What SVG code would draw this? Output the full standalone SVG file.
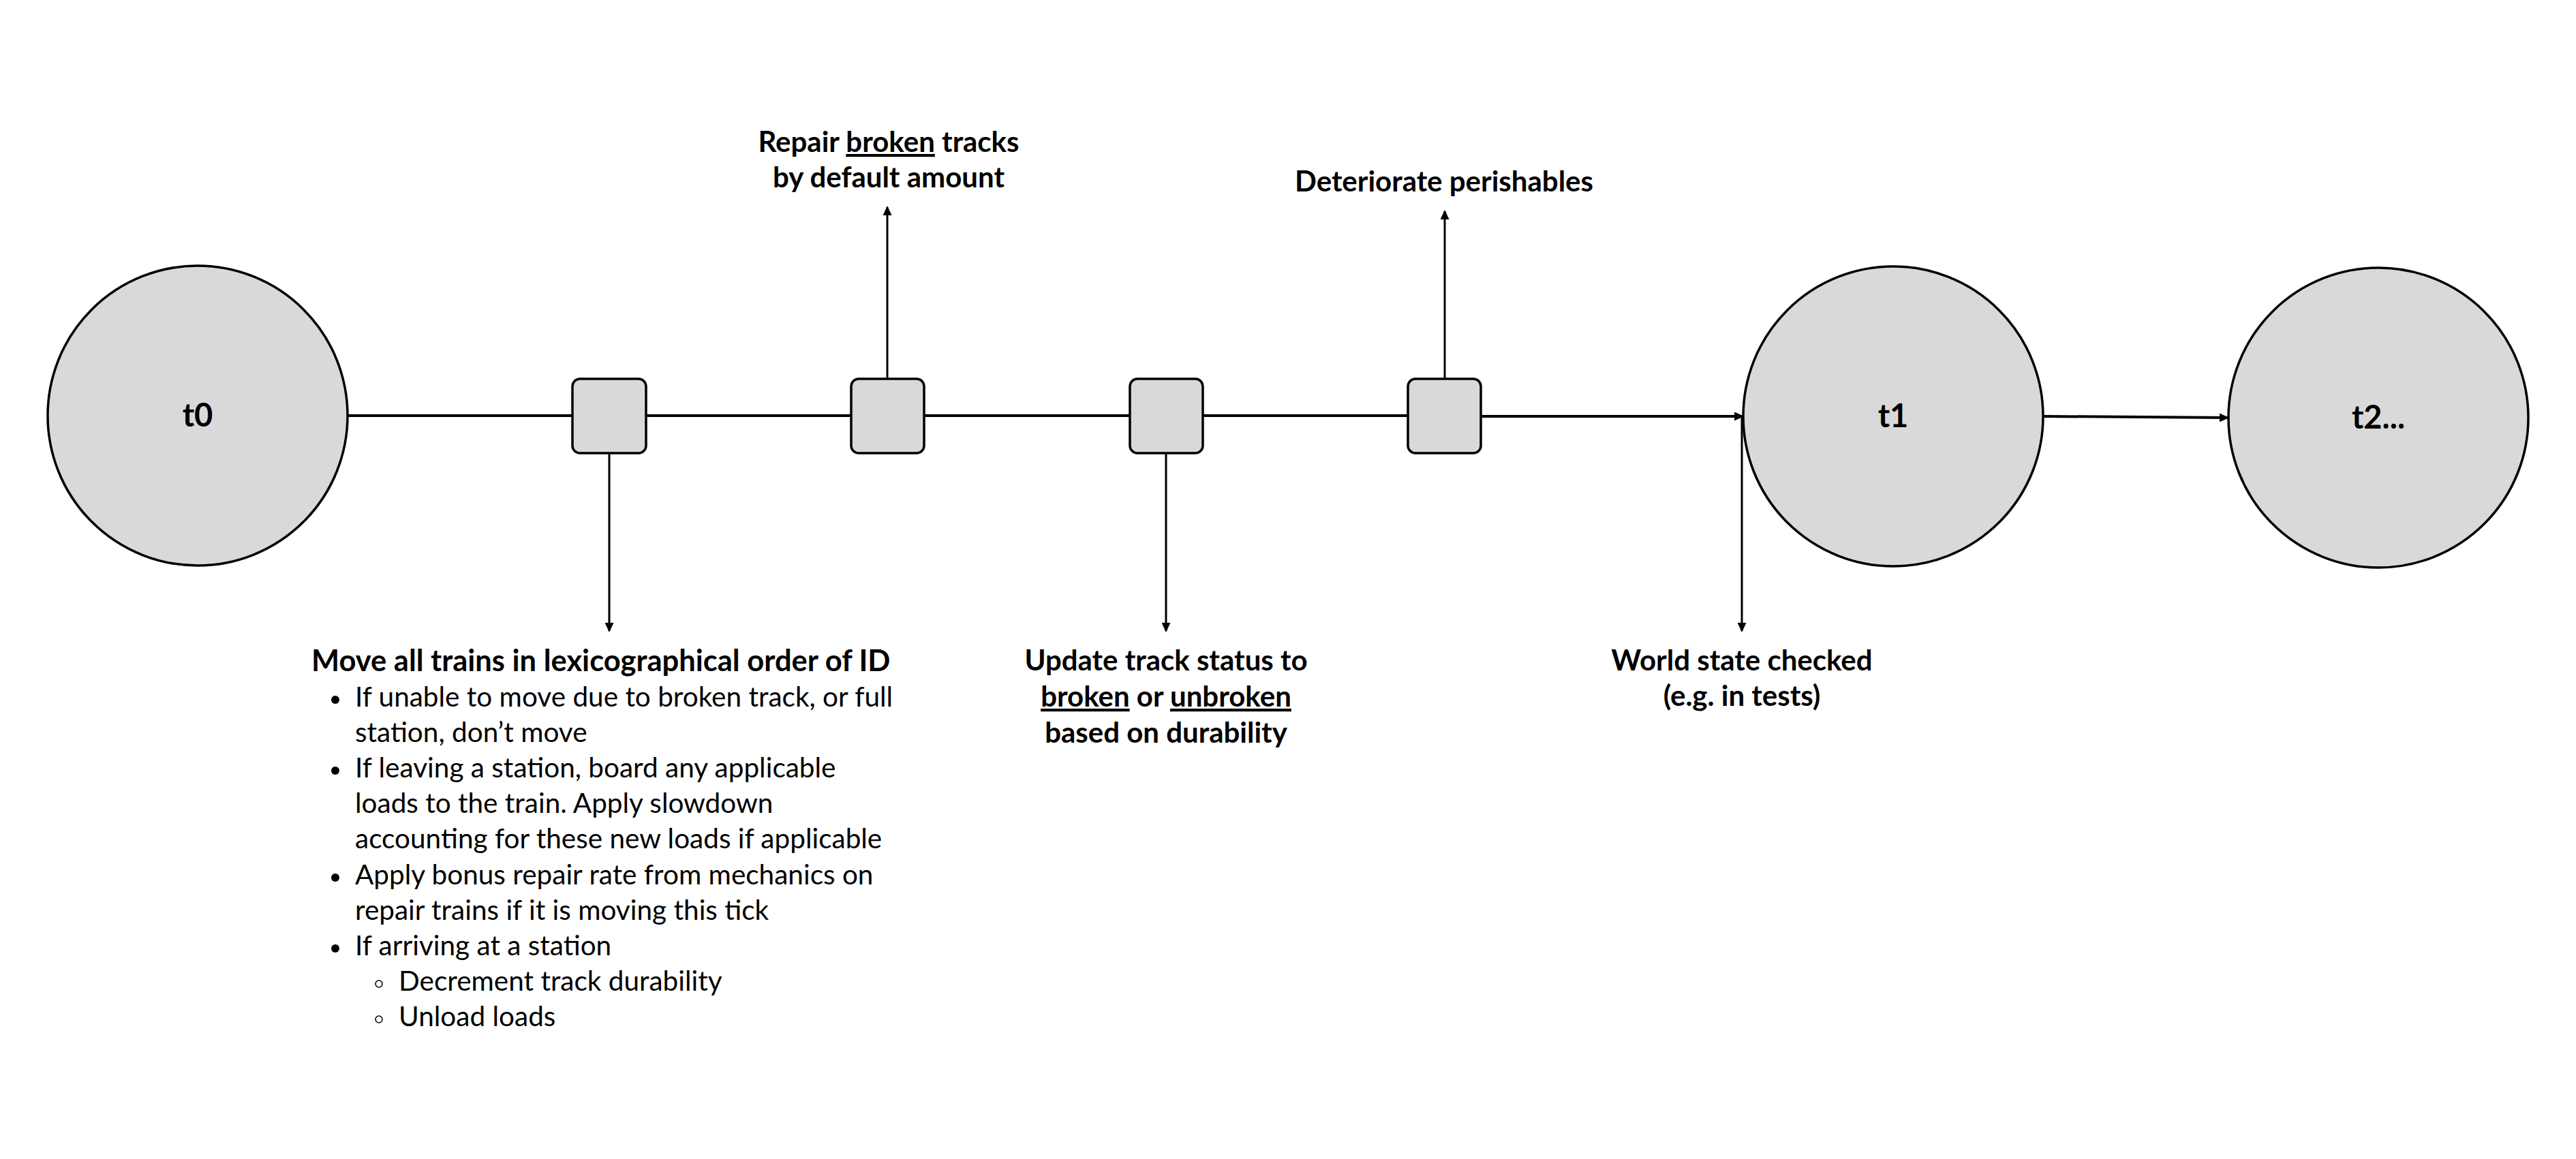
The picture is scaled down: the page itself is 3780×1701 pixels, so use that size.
<svg xmlns="http://www.w3.org/2000/svg" width="3780" height="1701" viewBox="0 0 3780 1701">
<style>
.bg{fill:#ffffff}
.circle{fill:#d9d9d9;stroke:#000;stroke-width:3.5}
.sq{fill:#d9d9d9;stroke:#000;stroke-width:3.5}
.line{stroke:#000;stroke-width:4;fill:none}
.vline{stroke:#000;stroke-width:3;fill:none}
.lbl{font-family:Lato,"Liberation Sans",sans-serif;font-weight:bold;font-size:42px;fill:#000}
.title{font-size:43.5px}
.node{font-family:Lato,"Liberation Sans",sans-serif;font-weight:bold;font-size:47px;fill:#000;text-anchor:middle}
.body{font-family:Lato,"Liberation Sans",sans-serif;font-size:40.5px;fill:#000}
.c{text-anchor:middle}
.u{text-decoration:underline}
</style>
<defs>
<marker id="arr" markerWidth="14" markerHeight="13" refX="12" refY="6.5" orient="auto" markerUnits="userSpaceOnUse">
<path d="M0,0 L14,6.5 L0,13 z" fill="#000"/>
</marker>
</defs>
<rect class="bg" x="0" y="0" width="3780" height="1701"/>

<g id="connectors">
<line class="line" x1="510" y1="610" x2="840" y2="610"/>
<line class="line" x1="948" y1="610" x2="1249" y2="610"/>
<line class="line" x1="1356" y1="610" x2="1658" y2="610"/>
<line class="line" x1="1765" y1="610" x2="2066" y2="610"/>
<line class="line" x1="2173" y1="611" x2="2557" y2="611" marker-end="url(#arr)"/>
<line class="line" x1="2998" y1="611" x2="3269" y2="613" marker-end="url(#arr)"/>
<line class="vline" x1="894" y1="665" x2="894" y2="926" marker-end="url(#arr)"/>
<line class="vline" x1="1302" y1="556" x2="1302" y2="304" marker-end="url(#arr)"/>
<line class="vline" x1="1711" y1="665" x2="1711" y2="926" marker-end="url(#arr)"/>
<line class="vline" x1="2120" y1="556" x2="2120" y2="310" marker-end="url(#arr)"/>
<line class="vline" x1="2556" y1="611" x2="2556" y2="926" marker-end="url(#arr)"/>
</g>

<g id="t0">
<circle class="circle" cx="290" cy="610" r="220"/>
<text class="node" x="290" y="626">t0</text>
</g>
<g id="t1">
<circle class="circle" cx="2778" cy="611" r="220"/>
<text class="node" x="2778" y="627">t1</text>
</g>
<g id="t2">
<circle class="circle" cx="3490" cy="613" r="220"/>
<text class="node" x="3490" y="629">t2...</text>
</g>

<g id="step1"><rect class="sq" x="840" y="556" width="108" height="109" rx="11"/></g>
<g id="step2"><rect class="sq" x="1249" y="556" width="107" height="109" rx="11"/></g>
<g id="step3"><rect class="sq" x="1658" y="556" width="107" height="109" rx="11"/></g>
<g id="step4"><rect class="sq" x="2066" y="556" width="107" height="109" rx="11"/></g>

<g id="label-repair">
<text class="lbl c" x="1304" y="223">Repair <tspan class="u">broken</tspan> tracks</text>
<text class="lbl c" x="1304" y="275">by default amount</text>
</g>
<g id="label-deteriorate">
<text class="lbl c" x="2119" y="281">Deteriorate perishables</text>
</g>
<g id="label-update">
<text class="lbl c" x="1711" y="984">Update track status to</text>
<text class="lbl c" x="1711" y="1037"><tspan class="u">broken</tspan> or <tspan class="u">unbroken</tspan></text>
<text class="lbl c" x="1711" y="1090">based on durability</text>
</g>
<g id="label-world">
<text class="lbl c" x="2556" y="984">World state checked</text>
<text class="lbl c" x="2556" y="1036">(e.g. in tests)</text>
</g>
<g id="label-move">
<text class="lbl title" x="457" y="985">Move all trains in lexicographical order of ID</text>
<circle cx="492" cy="1027" r="6" fill="#000"/>
<text class="body" x="521" y="1037">If unable to move due to broken track, or full</text>
<text class="body" x="521" y="1089">station, don’t move</text>
<circle cx="492" cy="1131" r="6" fill="#000"/>
<text class="body" x="521" y="1141">If leaving a station, board any applicable</text>
<text class="body" x="521" y="1193">loads to the train. Apply slowdown</text>
<text class="body" x="521" y="1245">accounting for these new loads if applicable</text>
<circle cx="492" cy="1288" r="6" fill="#000"/>
<text class="body" x="521" y="1298">Apply bonus repair rate from mechanics on</text>
<text class="body" x="521" y="1350">repair trains if it is moving this tick</text>
<circle cx="492" cy="1392" r="6" fill="#000"/>
<text class="body" x="521" y="1402">If arriving at a station</text>
<circle cx="556" cy="1444" r="5" fill="none" stroke="#000" stroke-width="1.5"/>
<text class="body" x="585" y="1454">Decrement track durability</text>
<circle cx="556" cy="1496" r="5" fill="none" stroke="#000" stroke-width="1.5"/>
<text class="body" x="585" y="1506">Unload loads</text>
</g>
</svg>
